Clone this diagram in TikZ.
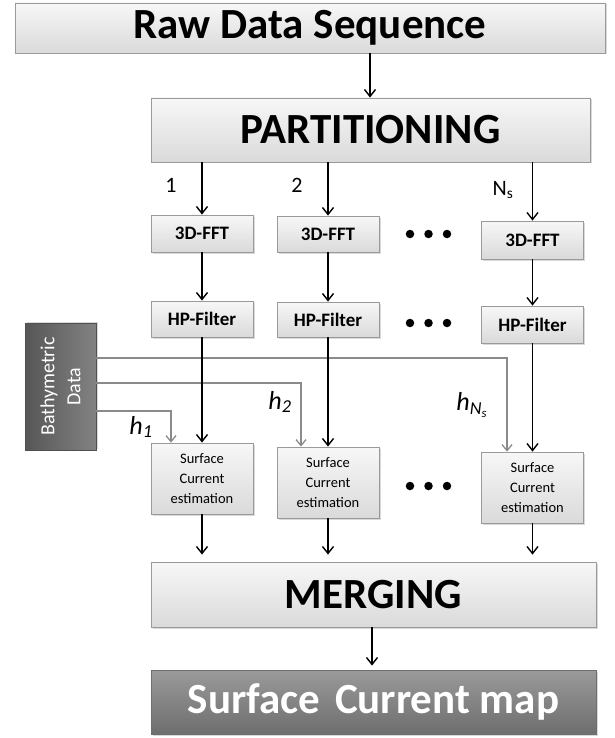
\documentclass[tikz,border=0pt]{standalone}
\usepackage{fontspec}
\setmainfont{Carlito}
\usetikzlibrary{arrows.meta,shadows,calc}
\definecolor{boxedge}{HTML}{9A9A9A}
\definecolor{boxtop}{HTML}{F7F7F7}
\definecolor{boxbot}{HTML}{DADADA}
\definecolor{darktop}{HTML}{9A9A9A}
\definecolor{darkbot}{HTML}{6E6E6E}
\definecolor{bathy}{HTML}{6C6C6C}
\definecolor{bathyedge}{HTML}{505050}
\definecolor{feed}{HTML}{8A8A8A}
\tikzset{
  lightbox/.style={draw=boxedge, line width=0.8pt, top color=boxtop, bottom color=boxbot,
    drop shadow={opacity=0.3, shadow xshift=1.5pt, shadow yshift=-1.5pt},
    inner sep=0pt, anchor=center},
  bigbox/.style={lightbox, font=\fontsize{43}{48}\selectfont\bfseries},
  smallbox/.style={lightbox, minimum width=102pt, font=\fontsize{19}{21}\selectfont\bfseries},
  scbox/.style={lightbox, minimum width=102pt, minimum height=71pt, align=center,
    font=\fontsize{14.5}{20}\selectfont},
  darkbox/.style={draw=darkbot, line width=0.8pt, top color=darktop, bottom color=darkbot,
    drop shadow={opacity=0.3, shadow xshift=1.5pt, shadow yshift=-1.5pt},
    inner sep=0pt, text=white, font=\fontsize{43}{48}\selectfont\bfseries},
  bathybox/.style={draw=bathyedge, line width=0.8pt, left color=bathy!80!black, right color=bathy!85!white,
    drop shadow={opacity=0.3, shadow xshift=1.5pt, shadow yshift=1.5pt},
    inner sep=0pt, text=white, align=center, font=\fontsize{20}{26}\selectfont},
  flow/.style={draw=black, line width=1.5pt, -{Straight Barb[length=7pt,width=11pt,line width=1.4pt]}},
  feedline/.style={draw=feed, line width=1.5pt, -{Straight Barb[length=6pt,width=10pt,line width=1.3pt]}},
  dotmark/.style={circle, fill=black, inner sep=0pt, minimum size=8.5pt},
  lbl/.style={inner sep=0pt, font=\fontsize{22}{24}\selectfont},
  hlbl/.style={inner sep=0pt, font=\fontsize{26}{28}\selectfont\itshape}
}
\begin{document}
\begin{tikzpicture}[x=1pt,y=-1pt]
\useasboundingbox (0,0) rectangle (614,738);
% main boxes
\node[bigbox, minimum width=590pt, minimum height=50pt] (raw) at (310,28) {Raw Data Sequence};
\node[bigbox, minimum width=439pt, minimum height=64pt] (part) at (370.5,130) {PARTITIONING};
\node[bigbox, minimum width=445pt, minimum height=65pt] (merge) at (373.5,594.5) {MERGING};
\node[darkbox, minimum width=445pt, minimum height=64pt] (scm) at (373.5,702) {Surface\hspace{0.12em} Current map};
% column boxes
\node[smallbox, minimum height=37pt] (fft1) at (202,233.5) {3D-FFT};
\node[smallbox, minimum height=36pt] (fft2) at (328,234) {3D-FFT};
\node[smallbox, minimum height=38pt] (fft3) at (532.5,240) {3D-FFT};
\node[smallbox, minimum height=36pt] (hp1) at (202,319) {HP-Filter};
\node[smallbox, minimum height=35pt] (hp2) at (328,319.5) {HP-Filter};
\node[smallbox, minimum height=37pt] (hp3) at (532.5,324.5) {HP-Filter};
\node[scbox] (sc1) at (202,478.5) {Surface\\Current\\estimation};
\node[scbox] (sc2) at (328,482.5) {Surface\\Current\\estimation};
\node[scbox] (sc3) at (532.5,487.5) {Surface\\Current\\estimation};
% bathymetric data
\node[bathybox, rotate=90, minimum width=127pt, minimum height=71pt] (bath) at (60.5,386.5) {Bathymetric\\Data};
% feed lines from bathymetric data
\coordinate (b1) at (96,411);
\coordinate (b2) at (96,383);
\coordinate (b3) at (96,358);
\draw[feedline] (b1) -- (171,411) -- (sc1.north -| 171,0);
\draw[feedline] (b2) -- (301,383) -- (sc2.north -| 301,0);
\draw[feedline] (b3) -- (507,358) -- (sc3.north -| 507,0);
% main flow
\draw[flow] (raw.south -| 370,0) -- (part.north -| 370,0);
\draw[flow] (part.south -| fft1) -- (fft1.north);
\draw[flow] (part.south -| fft2) -- (fft2.north);
\draw[flow] (part.south -| fft3) -- (fft3.north);
\draw[flow] (fft1) -- (hp1);
\draw[flow] (fft2) -- (hp2);
\draw[flow] (fft3) -- (hp3);
\draw[flow] (hp1) -- (sc1);
\draw[flow] (hp2) -- (sc2);
\draw[flow] (hp3) -- (sc3);
\draw[flow, shorten >=7pt] (sc1.south) -- (merge.north -| sc1);
\draw[flow, shorten >=7pt] (sc2.south) -- (merge.north -| sc2);
\draw[flow, shorten >=7pt] (sc3.south) -- (merge.north -| sc3);
\draw[flow, shorten >=4pt] (merge.south -| 372,0) -- (scm.north -| 372,0);
% labels
\node[lbl] (l1) at (171,185) {1};
\node[lbl] (l2) at (297,185) {2};
\node[lbl] (l3) at (503,190) {N\textsubscript{s}};
\node[hlbl] (h1) at (141,427) {h\textsubscript{1}};
\node[hlbl] (h2) at (280,402) {h\textsubscript{2}};
\node[hlbl] (h3) at (472,405) {h\textsubscript{N\textsubscript{s}}};
% ellipsis dots
\foreach \r/\y in {1/234, 2/323, 3/486} {
  \node[dotmark] (d\r a) at (410,\y) {};
  \node[dotmark] (d\r b) at (428.5,\y) {};
  \node[dotmark] (d\r c) at (447,\y) {};
}
\end{tikzpicture}
\end{document}
